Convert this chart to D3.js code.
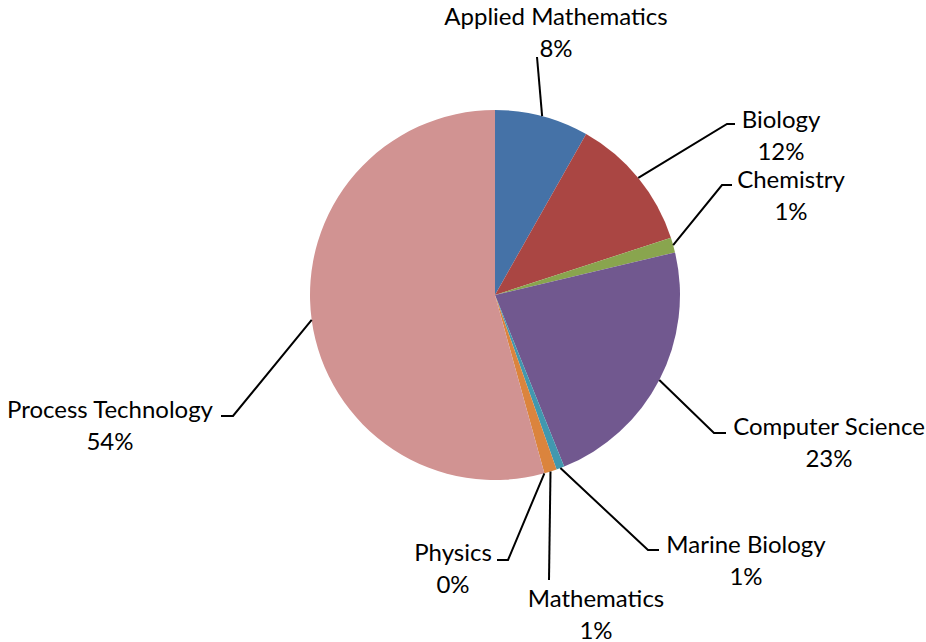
<!DOCTYPE html>
<html>
<head>
<meta charset="utf-8">
<script src="https://cdn.jsdelivr.net/npm/d3@7"></script>
<style>
  html, body { margin: 0; padding: 0; background: #ffffff; }
  svg { display: block; }
  text { font-family: Lato, "Open Sans", sans-serif; fill: #000; }
</style>
</head>
<body>
<svg id="chart" width="926" height="642"></svg>
<script>
// ---- data ----
const categories = ["Applied Mathematics", "Biology", "Chemistry", "Computer Science",
                    "Marine Biology", "Mathematics", "Physics", "Process Technology"];
const values = [8.2, 11.8, 1.3, 22.6, 0.7, 1.1, 0.0, 54.3];
const colors = ["#4572A7", "#AA4643", "#89A54E", "#71588F", "#4198AF", "#DB843D", "#93A9CF", "#D19392"];

// ---- layout for data labels (label center, leader elbow, leader end) ----
const labelPos = [
  { x: 556, y: 15,  elbow: [537, 57],  end: [537, 57] },
  { x: 781, y: 118, elbow: [727, 124], end: [735, 124] },
  { x: 791, y: 178, elbow: [722, 185], end: [732, 185] },
  { x: 829, y: 425, elbow: [714, 433], end: [726, 433] },
  { x: 746, y: 543, elbow: [648, 550], end: [659, 550] },
  { x: 596, y: 597, elbow: [549, 580], end: [549, 580] },
  { x: 453, y: 551, elbow: [508, 560], end: [497, 560] },
  { x: 110, y: 408, elbow: [233, 416], end: [221, 416] }
];

const W = 926, H = 642;
const cx = 495, cy = 295, R = 185;
const fontSize = 24, lineGap = 32;

const svg = d3.select("#chart");
const data = categories.map((c, i) => ({ name: c, value: values[i], color: colors[i], lab: labelPos[i] }));
const total = d3.sum(values);

const pie = d3.pie().value(d => d.value).sort(null).startAngle(0).endAngle(2 * Math.PI);
const arcs = pie(data);
const arc = d3.arc().innerRadius(0).outerRadius(R);

const g = svg.append("g").attr("transform", `translate(${cx},${cy})`);
g.selectAll("path.slice")
  .data(arcs)
  .join("path")
  .attr("class", "slice")
  .attr("d", arc)
  .attr("fill", d => d.data.color);

// leader lines
const line = d3.line();
svg.selectAll("path.leader")
  .data(arcs)
  .join("path")
  .attr("class", "leader")
  .attr("fill", "none")
  .attr("stroke", "#000")
  .attr("stroke-width", 2)
  .attr("d", d => {
    const a = (d.startAngle + d.endAngle) / 2;
    const p0 = [cx + R * Math.sin(a), cy - R * Math.cos(a)];
    return line([p0, d.data.lab.elbow, d.data.lab.end]);
  });

// labels
const labels = svg.selectAll("g.label")
  .data(arcs)
  .join("g")
  .attr("class", "label");
labels.append("text")
  .attr("x", d => d.data.lab.x)
  .attr("y", d => d.data.lab.y)
  .attr("text-anchor", "middle")
  .attr("dominant-baseline", "central")
  .style("font-size", fontSize + "px")
  .text(d => d.data.name);
labels.append("text")
  .attr("x", d => d.data.lab.x)
  .attr("y", d => d.data.lab.y + lineGap)
  .attr("text-anchor", "middle")
  .attr("dominant-baseline", "central")
  .style("font-size", fontSize + "px")
  .text(d => Math.round(d.data.value / total * 100) + "%");
</script>
</body>
</html>
